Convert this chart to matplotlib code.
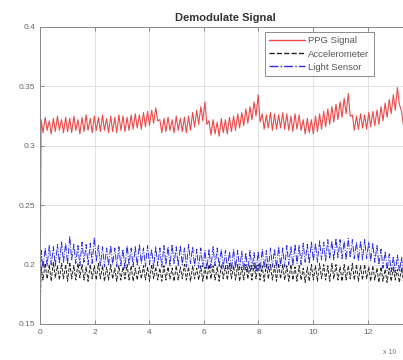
import numpy as np
import matplotlib
matplotlib.use("Agg")
import matplotlib.pyplot as plt

plt.rcParams['font.family'] = ['Liberation Sans', 'DejaVu Sans']

title = "Demodulate Signal"
labels = ["PPG Signal", "Accelerometer", "Light Sensor"]
start_value = 0.15

ppg_peaks = [0.322,0.324,0.321,0.323,0.325,0.322,0.324,0.323,0.325,0.322,
             0.324,0.326,0.323,0.325,0.324,0.326,0.323,0.325,0.324,0.326,
             0.325,0.324,0.326,0.327,0.326,0.328,0.329,0.330,0.332,
             0.322,
             0.323,0.324,0.322,0.325,0.323,0.324,0.325,
             0.328,0.330,0.333,0.337,
             0.321,0.322,0.320,0.323,0.322,0.324,0.325,
             0.327,0.328,0.331,0.333,0.337,0.343,
             0.327,0.326,0.328,0.327,0.326,0.328,0.327,0.325,0.327,0.326,
             0.322,0.323,0.322,0.325,
             0.327,0.329,0.331,0.333,0.335,0.337,0.340,0.344,
             0.326,0.325,0.327,0.326,0.328,0.329,0.330,
             0.333,0.336,0.339,0.343,0.349,
             0.329,0.327]
ppg_troughs = [0.311,0.313,0.310,0.312,0.313,0.311,0.312,0.311,0.313,0.310,
               0.312,0.313,0.311,0.313,0.312,0.313,0.311,0.312,0.311,0.313,
               0.312,0.313,0.314,0.315,0.314,0.316,0.317,0.319,0.321,
               0.311,
               0.312,0.313,0.311,0.313,0.312,0.311,0.313,
               0.316,0.318,0.321,0.318,
               0.309,0.310,0.308,0.311,0.310,0.312,0.313,
               0.315,0.317,0.319,0.322,0.325,0.320,
               0.314,0.315,0.313,0.314,0.315,0.314,0.313,0.312,0.314,0.313,
               0.310,0.311,0.310,0.312,
               0.314,0.316,0.318,0.320,0.322,0.324,0.327,0.325,
               0.313,0.314,0.315,0.314,0.316,0.317,0.318,
               0.321,0.324,0.327,0.330,0.335,
               0.317,0.315]

light_peaks = [0.212,0.214,0.216,0.215,0.217,0.219,0.218,0.224,0.217,0.216,
               0.219,0.217,0.218,0.223,0.216,0.215,0.214,0.216,0.214,0.215,
               0.213,0.216,0.214,0.215,0.217,0.214,0.216,0.213,0.215,0.214,
               0.216,0.215,0.217,0.215,0.216,0.214,0.217,0.215,0.213,0.214,
               0.212,0.213,0.215,0.214,0.213,0.212,0.211,0.213,0.212,0.211,
               0.210,0.212,0.210,0.211,0.213,0.212,0.214,0.213,0.215,0.214,
               0.216,0.215,0.217,0.216,0.218,0.217,0.219,0.218,0.220,0.219,
               0.221,0.220,0.222,0.221,0.220,0.222,0.221,0.219,0.220,0.221,
               0.219,0.218,0.216,0.213,0.211,0.209,0.207,0.208,0.206,0.205]
light_troughs = [0.197,0.199,0.200,0.199,0.201,0.202,0.200,0.204,0.201,0.199,
                 0.202,0.200,0.201,0.203,0.199,0.198,0.199,0.200,0.198,0.199,
                 0.197,0.200,0.198,0.199,0.201,0.198,0.200,0.197,0.199,0.198,
                 0.200,0.199,0.201,0.199,0.200,0.198,0.201,0.199,0.197,0.198,
                 0.196,0.197,0.199,0.198,0.197,0.196,0.195,0.197,0.196,0.195,
                 0.194,0.196,0.194,0.195,0.197,0.196,0.198,0.197,0.199,0.198,
                 0.200,0.199,0.201,0.200,0.202,0.201,0.203,0.202,0.204,0.203,
                 0.205,0.204,0.206,0.205,0.204,0.206,0.205,0.203,0.204,0.205,
                 0.203,0.202,0.200,0.197,0.195,0.194,0.193,0.194,0.192,0.193]

acc_peaks = [0.198,0.201,0.200,0.202,0.199,0.201,0.200,0.202,0.199,0.201,
             0.200,0.198,0.200,0.199,0.201,0.199,0.198,0.200,0.197,0.199,
             0.198,0.200,0.199,0.197,0.198,0.199,0.198,0.200,0.198,0.197,
             0.199,0.198,0.197,0.199,0.198,0.200,0.198,0.199,0.197,0.199,
             0.198,0.200,0.199,0.198,0.200,0.199,0.201,0.199,0.200,0.198,
             0.200,0.199,0.201,0.200,0.199,0.201,0.200,0.199,0.201,0.200,
             0.199,0.200,0.198,0.199,0.197,0.198,0.200,0.199,0.201,0.200,
             0.199,0.201,0.200,0.198,0.200,0.199,0.201,0.200,0.199,0.200,
             0.198,0.199,0.197,0.198,0.196,0.197,0.198,0.196,0.197,0.196]
acc_troughs = [0.187,0.188,0.186,0.189,0.187,0.188,0.186,0.188,0.187,0.189,
               0.187,0.186,0.188,0.187,0.188,0.186,0.187,0.188,0.186,0.187,
               0.188,0.187,0.186,0.187,0.188,0.187,0.186,0.188,0.187,0.186,
               0.187,0.188,0.186,0.187,0.188,0.187,0.186,0.188,0.187,0.186,
               0.187,0.188,0.187,0.186,0.188,0.187,0.188,0.187,0.186,0.187,
               0.188,0.187,0.188,0.187,0.186,0.188,0.187,0.186,0.188,0.187,
               0.186,0.187,0.186,0.187,0.185,0.186,0.187,0.186,0.188,0.187,
               0.186,0.188,0.187,0.186,0.187,0.188,0.187,0.186,0.187,0.188,
               0.186,0.187,0.185,0.186,0.185,0.186,0.187,0.185,0.186,0.185]

xticks = [0, 2, 4, 6, 8, 10, 12]
yticks = [0.15, 0.2, 0.25, 0.3, 0.35, 0.4]
ytick_labels = ["0.15", "0.2", "0.25", "0.3", "0.35", "0.4"]


def build(peaks, troughs, step=0.15):
    n = len(peaks)
    k = np.arange(n)
    xs = np.empty(2 * n + 1)
    ys = np.empty(2 * n + 1)
    xs[0] = 0.0
    ys[0] = start_value
    xs[1::2] = step * k + 0.04
    xs[2::2] = step * k + 0.11
    ys[1::2] = peaks
    ys[2::2] = troughs
    return xs, ys


fig = plt.figure(figsize=(4.03, 3.6), dpi=100)
ax = fig.add_axes([40 / 403, 0.1, 370 / 403, 0.825])

x1, y1 = build(ppg_peaks, ppg_troughs)
x2, y2 = build(acc_peaks, acc_troughs)
x3, y3 = build(light_peaks, light_troughs)

ax.plot(x1, y1, color='#ee4848', lw=0.8, label=labels[0])
ax.plot(x2, y2, color='#222222', lw=0.7, ls='--', label=labels[1])
ax.plot(x3, y3, color='#2a2ae6', lw=0.7, ls='-.', label=labels[2])

ax.set_xlim(0, 13.55)
ax.set_ylim(0.15, 0.4)
ax.set_xticks(xticks)
ax.set_xticklabels([str(t) for t in xticks])
ax.set_yticks(yticks)
ax.set_yticklabels(ytick_labels)
ax.grid(True, color='#dcdcdc', lw=0.6)
ax.tick_params(direction='in', length=3, width=0.6, colors='#777777',
               labelsize=6, top=True, right=True, labelcolor='#666666')
for s in ax.spines.values():
    s.set_color('#888888')
    s.set_linewidth(0.7)
ax.set_title(title, fontsize=8, fontweight='bold', color='#333333', pad=4)

leg = ax.legend(loc='upper left', bbox_to_anchor=(225 / 370, 0.983), fontsize=6.8,
                frameon=True, fancybox=False, edgecolor='#555555',
                handlelength=3.8, borderpad=0.45, labelspacing=0.45,
                handletextpad=0.35, borderaxespad=0.0)
leg.get_frame().set_linewidth(0.6)
for t in leg.get_texts():
    t.set_color('#555555')
for h in leg.get_lines():
    h.set_linewidth(1.0)

fig.text(383 / 403, 1 - 352 / 360, "x 10", fontsize=5, color='#777777', va='center')

fig.savefig("out.png", dpi=100)
